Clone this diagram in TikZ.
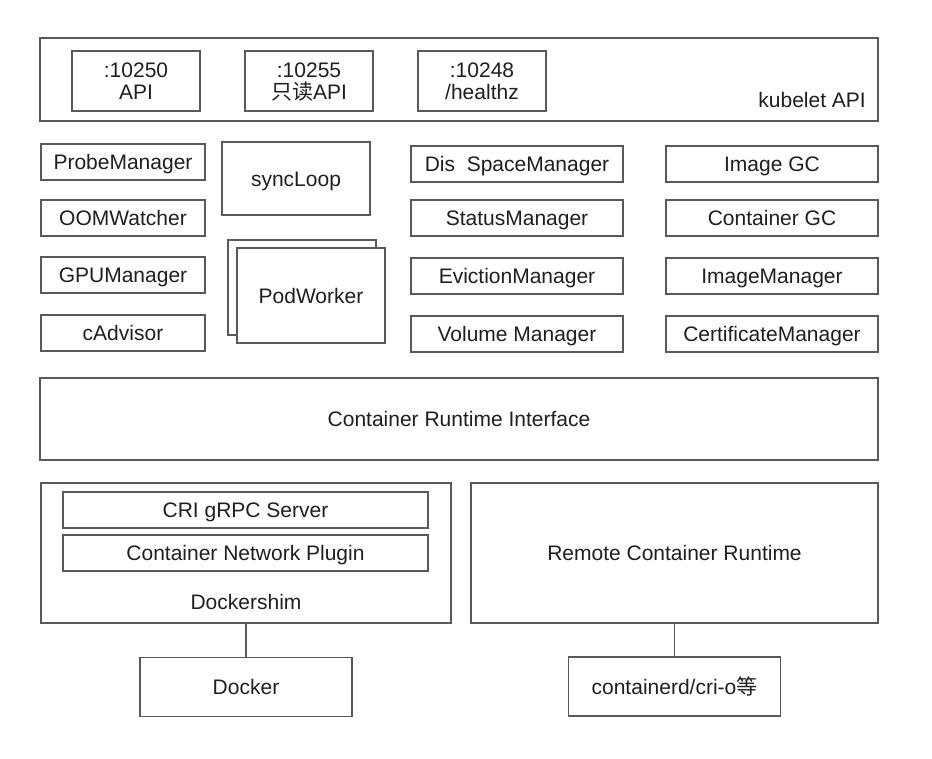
\documentclass[tikz,border=0pt]{standalone}
\usepackage{fontspec}
\setmainfont{Liberation Sans}
\newfontfamily\cjk{Noto Sans CJK SC}
\begin{document}
\begin{tikzpicture}[x=1pt,y=-1pt,
  box/.style={draw=black!65, line width=1.3pt, fill=white, inner sep=0pt, text=black!88, text height=15pt, text depth=0pt, font=\fontsize{21}{22}\selectfont},
  small/.style={box, minimum width=164pt, minimum height=36pt},
  mid/.style={box, minimum width=212pt, minimum height=36pt},
  port/.style={box, align=center, text height=37pt, minimum width=128pt, minimum height=60pt},
  lbl/.style={inner sep=0pt, text=black!88, text height=15pt, text depth=0pt, font=\fontsize{21}{22}\selectfont},
  conn/.style={draw=black!65, line width=1.3pt}]
\fill[white] (0,0) rectangle (932,758);
\useasboundingbox (0,0) rectangle (932,758);
% kubelet API
\node[box, minimum width=838pt, minimum height=83pt] (kub) at (459,79.5) {};
\node[lbl, anchor=east] (kubl) at (866,100) {kubelet API};
\node[port] (p1) at (136,81) {:10250\\API};
\node[port] (p2) at (309,81) {:10255\\{\cjk 只读}API};
\node[port] (p3) at (482,81) {:10248\\/healthz};
% left column
\node[small] (probe) at (123,162) {ProbeManager};
\node[small] (oom) at (123,218) {OOMWatcher};
\node[small] (gpu) at (123,275) {GPUManager};
\node[small] (cadv) at (123,333) {cAdvisor};
% syncLoop and PodWorker
\node[box, minimum width=148pt, minimum height=73pt] (sync) at (296,178.5) {syncLoop};
\node[box, minimum width=148pt, minimum height=95pt] (podb) at (302,287.5) {};
\node[box, minimum width=148pt, minimum height=95pt] (podf) at (311,295.5) {PodWorker};
% third column
\node[mid] (disk) at (517,164) {Dis~ SpaceManager};
\node[mid] (status) at (517,218) {StatusManager};
\node[mid] (evict) at (517,276) {EvictionManager};
\node[mid] (vol) at (517,334) {Volume Manager};
% fourth column
\node[mid] (imggc) at (772,164) {Image GC};
\node[mid] (contgc) at (772,218) {Container GC};
\node[mid] (imgmgr) at (772,276) {ImageManager};
\node[mid] (cert) at (772,334) {CertificateManager};
% CRI
\node[box, minimum width=838pt, minimum height=82pt] (cri) at (459,419) {Container Runtime Interface};
% Dockershim
\node[box, minimum width=410pt, minimum height=140pt] (shim) at (246,553) {};
\node[box, minimum width=365pt, minimum height=36pt] (grpc) at (245.5,510) {CRI gRPC Server};
\node[box, minimum width=365pt, minimum height=36pt] (cnp) at (245.5,553) {Container Network Plugin};
\node[lbl] (shiml) at (246,602) {Dockershim};
% Remote
\node[box, minimum width=407pt, minimum height=140pt] (remote) at (674.5,553) {Remote Container Runtime};
% bottom
\node[box, minimum width=212pt, minimum height=59pt] (docker) at (246,687) {Docker};
\node[box, minimum width=212pt, minimum height=59pt] (ctrd) at (674.5,686.5) {containerd/cri-o{\cjk 等}};
\draw[conn] (shim.south) -- (docker.north);
\draw[conn] (remote.south) -- (ctrd.north);
\end{tikzpicture}
\end{document}
